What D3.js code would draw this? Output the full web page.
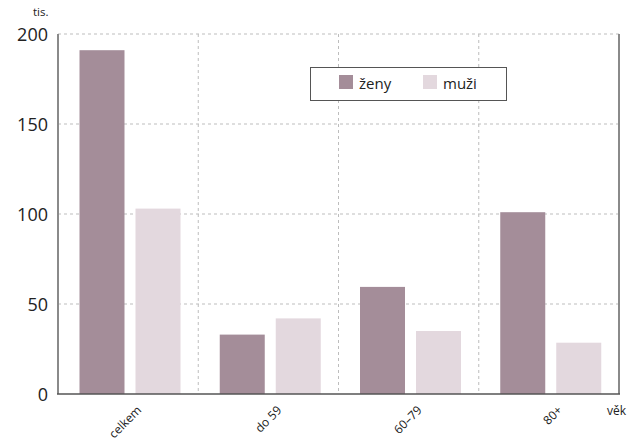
<!DOCTYPE html>
<html><head><meta charset="utf-8">
<script src="https://cdn.jsdelivr.net/npm/d3@7"></script>
<style>body{margin:0;background:#fff;} svg{display:block;font-family:"Open Sans","Noto Sans",sans-serif;}</style>
</head><body>
<svg id="c" width="631" height="443"></svg>
<script>
const categories = ["celkem", "do 59", "60–79", "80+"];
const series = ["ženy", "muži"];
const zeny = [191, 33, 59.5, 101];
const muzi = [103, 42, 35, 28.5];
const yTicks = [0, 50, 100, 150, 200];
const colors = ["#a48d99", "#e3d8de"];

const svg = d3.select("#c");
const L = 58, R = 619, T = 34, B = 394;
const x0 = d3.scaleBand().domain(categories).range([L, R]).padding(0);
const x1 = d3.scaleBand().domain(series).range([21.5, 122.5]).paddingInner(11/56).paddingOuter(0);
const y = d3.scaleLinear().domain([0, 200]).range([B, T]);

// horizontal gridlines
svg.append("g").selectAll("line").data(yTicks.filter(d => d > 0)).join("line")
  .attr("x1", L).attr("x2", R).attr("y1", d => y(d)).attr("y2", d => y(d))
  .attr("stroke", "#bdbdbd").attr("stroke-width", 1).attr("stroke-dasharray", "3,3");
// vertical gridlines
svg.append("g").selectAll("line").data(categories.slice(1)).join("line")
  .attr("x1", d => x0(d)).attr("x2", d => x0(d)).attr("y1", T).attr("y2", B)
  .attr("stroke", "#bdbdbd").attr("stroke-width", 1).attr("stroke-dasharray", "3,3");

const data = categories.map((c, i) => ({c, vals: [zeny[i], muzi[i]]}));
svg.append("g").selectAll("g").data(data).join("g")
  .attr("transform", d => `translate(${x0(d.c)},0)`)
  .selectAll("rect").data(d => d.vals.map((v, j) => ({s: series[j], v, j}))).join("rect")
  .attr("x", d => x1(d.s)).attr("width", x1.bandwidth())
  .attr("y", d => y(d.v)).attr("height", d => B - y(d.v))
  .attr("fill", d => colors[d.j]);

// axes frame
svg.append("line").attr("x1", L).attr("x2", L).attr("y1", T).attr("y2", B).attr("stroke", "#8a8a8a").attr("stroke-width", 2);
svg.append("line").attr("x1", R).attr("x2", R).attr("y1", T).attr("y2", B).attr("stroke", "#8a8a8a").attr("stroke-width", 2);
svg.append("line").attr("x1", L - 1).attr("x2", R + 1).attr("y1", B).attr("y2", B).attr("stroke", "#555").attr("stroke-width", 1.5);

// y axis labels
const yAxis = d3.axisLeft(y).tickValues(yTicks).tickSize(0).tickPadding(10);
const ya = svg.append("g").attr("transform", `translate(${L},0)`).call(yAxis);
ya.select(".domain").remove();
ya.selectAll("text").attr("font-size", 18).attr("fill", "#222").attr("font-family", "'Open Sans','Noto Sans',sans-serif").attr("dy", "0.35em");

// x axis labels (rotated)
svg.append("g").selectAll("text").data(categories).join("text")
  .attr("transform", d => `translate(${x0(d) + x0.bandwidth() / 2 + 14},${B + 17}) rotate(-45)`)
  .attr("text-anchor", "end").attr("font-size", 12).attr("fill", "#222")
  .text(d => d);

svg.append("text").attr("x", 33).attr("y", 16).attr("font-size", 11.5).attr("fill", "#222").text("tis.");
svg.append("text").attr("x", 607).attr("y", 415).attr("font-size", 12).attr("fill", "#222").text("věk");

// legend
const lg = svg.append("g");
lg.append("rect").attr("x", 310.5).attr("y", 67.5).attr("width", 196).attr("height", 33)
  .attr("fill", "#fff").attr("stroke", "#555").attr("stroke-width", 1);
const lx = [339, 423];
series.forEach((s, i) => {
  lg.append("rect").attr("x", lx[i]).attr("y", 75).attr("width", 14).attr("height", 14).attr("fill", colors[i]);
  lg.append("text").attr("x", lx[i] + 20).attr("y", 89).attr("font-size", 15).attr("fill", "#222").text(s);
});
</script>
</body></html>
